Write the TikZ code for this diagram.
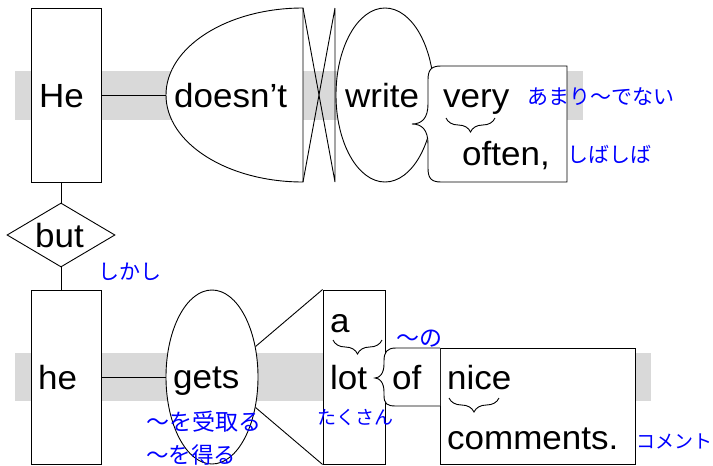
\documentclass[tikz,border=0pt]{standalone}
\usepackage{fontspec}
\setmainfont[FakeStretch=1.045]{Liberation Sans}
\newfontfamily\jp{Noto Sans CJK JP}
\usetikzlibrary{shapes.geometric,decorations.pathreplacing,calc}
\begin{document}
\begin{tikzpicture}[x=1pt,y=-1pt,
  ln/.style={line width=0.9pt, draw=black},
  boxshape/.style={ln, fill=white, rectangle, inner sep=0pt},
  ellshape/.style={ln, fill=white, ellipse, inner sep=0pt},
  word/.style={font=\fontsize{33.5}{33.5}\selectfont, inner sep=0pt, anchor=base west},
  gloss/.style={font=\jp\fontsize{21}{21}\selectfont, text=blue, inner sep=0pt, anchor=west},
  band/.style={fill=black!15, draw=none},
  wbrace/.style={line width=0.9pt, decorate, decoration={brace, mirror, amplitude=14pt}},
]
\useasboundingbox (0,0) rectangle (713,466);
% grey bands
\fill[band] (15,71) rectangle (583,120);
\fill[band] (15,353) rectangle (651,401);

% ---------- top row ----------
\node[boxshape, minimum width=70pt, minimum height=174pt] (Hebox) at (66,95) {};
\coordinate (doesntW) at (166,95);
\draw[ln] (Hebox.east) -- (doesntW);
\draw[ln, fill=white] (303,8) .. controls (227.3,8) and (166,47) .. (doesntW)
  .. controls (166,143) and (227.3,182) .. (303,182) -- cycle;
\draw[ln] (303,8) -- (335,182) (303,182) -- (335,8) (335,8) -- (335,182);
\node[ellshape, minimum width=98pt, minimum height=174pt] (writeshape) at (385,95) {};
\draw[ln, fill=white] (567,66) -- (441,66) .. controls (431,66) and (428,70) .. (428,80)
  -- (428,104) .. controls (428,118) and (422,124) .. (412,124)
  .. controls (422,124) and (428,130) .. (428,144) -- (428,168)
  .. controls (428,178) and (431,182) .. (441,182) -- (567,182) -- cycle;

\node[word] (He) at (39,107) {He};
\node[word] (doesnt) at (174,107) {doesn’t};
\node[word] (write) at (345,107) {write};
\node[word] (very) at (443,107) {very};
\node[word] (often) at (462,165) {often,};
\draw[wbrace] (446,118) -- (495,118);
\node[gloss] (amari) at (527,97) {あまり〜でない};
\node[gloss] (shiba) at (567,154) {しばしば};

% ---------- but ----------
\node[diamond, ln, fill=white, minimum width=108pt, minimum height=64pt, inner sep=0pt] (but) at (61,235) {};
\node[word] (butw) at (35,247) {but};
\node[gloss] (shikashi) at (98,272) {しかし};

% ---------- bottom row ----------
\node[boxshape, minimum width=70pt, minimum height=174pt] (hebox) at (66,377) {};
\draw[ln] (but.north) -- (but.north |- Hebox.south);
\draw[ln] (but.south) -- (but.south |- hebox.north);
\node[boxshape, minimum width=62pt, minimum height=174pt] (alot) at (354,377) {};
\node[ellshape, minimum width=92pt, minimum height=174pt] (gets) at (212,377) {};
\draw[ln] (hebox.east) -- (gets.west);
\draw[ln] (gets.35) -- (alot.north west);
\draw[ln] (gets.-35) -- (alot.south west);
\node[boxshape, minimum width=195pt, minimum height=116pt] (nicebox) at (537.5,406) {};
\draw[ln, fill=white] (440,348) -- (396,348) .. controls (387,348) and (384,352) .. (384,361)
  -- (384,364) .. controls (384,373) and (380,378) .. (375,378)
  .. controls (380,378) and (384,383) .. (384,392) -- (384,395)
  .. controls (384,404) and (387,406) .. (396,406) -- (440,406);

\node[word] (hew) at (38,389) {he};
\node[word] (getsw) at (173,388) {gets};
\node[word] (aw) at (330,332) {a};
\node[word] (lotw) at (330,389) {lot};
\node[word] (ofw) at (392,389) {of};
\node[word] (nicew) at (447,389) {nice};
\node[word] (commentsw) at (447,449) {comments.};
\draw[wbrace] (333,340) -- (382,340);
\draw[wbrace] (449,398) -- (499,398);

\node[gloss, font=\jp\fontsize{23}{23}\selectfont] (ukeru) at (146,422) {〜を受取る};
\node[gloss, font=\jp\fontsize{22.5}{22.5}\selectfont] (eru) at (146,455) {〜を得る};
\node[gloss, font=\jp\fontsize{19}{19}\selectfont] (takusan) at (317,417) {たくさん};
\node[gloss, font=\jp\fontsize{23}{23}\selectfont] (no) at (396,339) {〜の};
\node[gloss, font=\jp\fontsize{19}{19}\selectfont] (komento) at (636,441) {コメント};
\end{tikzpicture}
\end{document}
